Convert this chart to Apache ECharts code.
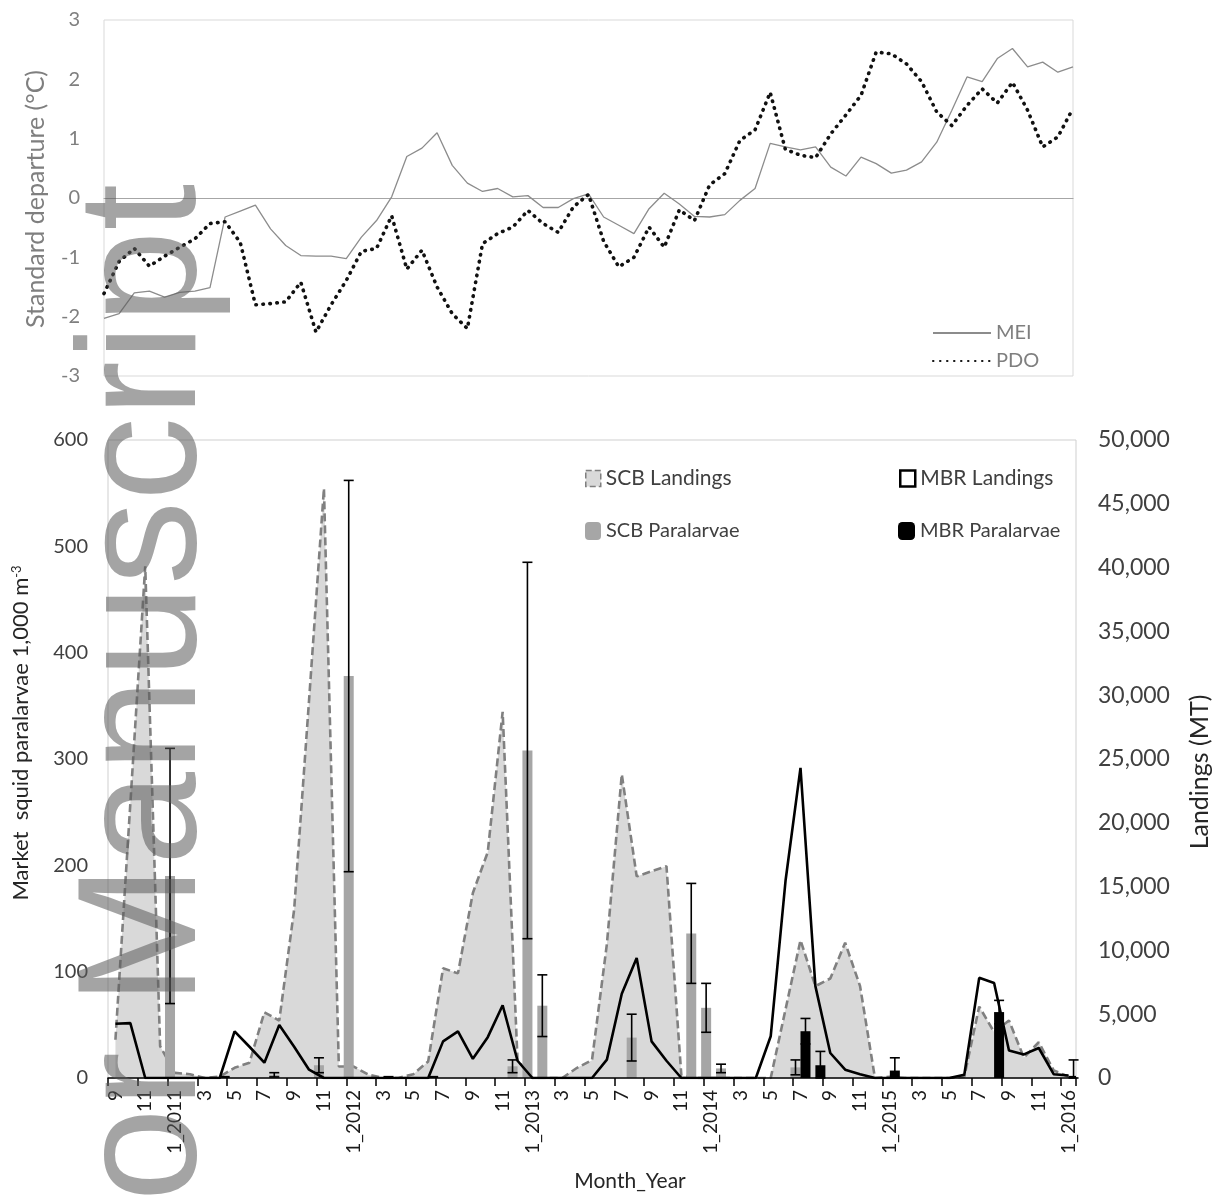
<!DOCTYPE html>
<html><head><meta charset="utf-8">
<script src="https://cdn.jsdelivr.net/npm/echarts/dist/echarts.min.js"></script>
<style>html,body{margin:0;padding:0;background:#fff}#c{width:1217px;height:1204px}</style>
</head><body><div id="c"></div>
<script>
const months = ['9','10','11','12','1_2011','2','3','4','5','6','7','8','9','10','11','12',
  '1_2012','2','3','4','5','6','7','8','9','10','11','12',
  '1_2013','2','3','4','5','6','7','8','9','10','11','12',
  '1_2014','2','3','4','5','6','7','8','9','10','11','12',
  '1_2015','2','3','4','5','6','7','8','9','10','11','12','1_2016'];

const mei = [-2.03,-1.95,-1.60,-1.57,-1.67,-1.59,-1.57,-1.51,-0.32,-0.22,
  -0.12,-0.52,-0.80,-0.97,-0.98,-0.98,-1.02,-0.66,-0.38,0.02,
  0.70,0.84,1.10,0.55,0.25,0.11,0.16,0.02,0.04,-0.16,
  -0.16,-0.01,0.07,-0.32,-0.46,-0.60,-0.18,0.08,-0.10,-0.31,
  -0.32,-0.28,-0.04,0.16,0.92,0.86,0.81,0.86,0.52,0.37,
  0.69,0.58,0.42,0.47,0.61,0.94,1.48,2.04,1.96,2.35,
  2.52,2.21,2.29,2.12,2.21];

const pdo = [-1.61,-1.07,-0.85,-1.15,-0.98,-0.83,-0.69,-0.43,-0.40,-0.75,
  -1.80,-1.78,-1.75,-1.42,-2.26,-1.80,-1.39,-0.90,-0.85,-0.30,
  -1.20,-0.88,-1.50,-1.95,-2.20,-0.77,-0.60,-0.49,-0.21,-0.43,
  -0.58,-0.15,0.06,-0.73,-1.16,-1.00,-0.49,-0.83,-0.20,-0.38,
  0.22,0.41,0.97,1.15,1.78,0.82,0.72,0.68,1.08,1.40,
  1.73,2.46,2.43,2.26,1.96,1.45,1.22,1.56,1.84,1.60,
  1.95,1.48,0.86,1.03,1.51];

const scbLandings = [3000,21500,40100,2500,400,300,0,100,800,1200,
  5150,4500,13200,29600,46200,900,900,250,0,0,
  300,1300,8600,8200,14500,17700,28700,1400,0,0,
  0,800,1400,10500,23800,15800,16200,16600,200,0,
  0,0,0,0,0,5400,10800,7200,7800,10600,
  7200,0,100,0,0,0,0,100,5600,3600,
  4500,1600,2800,600,100];

const mbrLandings = [4250,4300,0,0,0,0,0,0,3650,2450,
  1200,4150,2450,650,0,0,0,0,0,0,
  0,0,2870,3650,1500,3200,5700,1350,0,0,
  0,0,0,1440,6600,9400,2870,1350,0,0,
  0,0,0,0,3270,15500,24300,7200,1960,650,
  300,0,0,0,0,0,0,260,7850,7450,
  2150,1850,2350,300,200];

const scbParalarvae = [null,null,null,null,190,null,null,null,null,null,
  null,3,null,null,12,null,378,null,null,null,
  null,null,null,null,null,null,null,11,308,68,
  null,null,null,null,null,38,null,null,null,136,
  66,9,null,null,null,null,10,null,null,null,
  null,null,null,null,null,null,null,null,null,null,
  null,null,null,null,null];
const scbParalarvaeErr = [null,null,null,null,120,null,null,null,null,null,
  null,2,null,null,7,null,184,null,null,null,
  null,null,null,null,null,null,null,6,177,29,
  null,null,null,null,null,22,null,null,null,47,
  23,4,null,null,null,null,7,null,null,null,
  null,null,null,null,null,null,null,null,null,null,
  null,null,null,null,null];

const mbrParalarvae = [null,null,null,null,null,null,null,2,null,null,
  null,null,null,null,null,null,null,null,2,null,
  null,2,null,null,null,null,null,null,null,null,
  null,null,null,null,null,null,null,null,null,null,
  null,null,null,null,null,null,44,12,null,null,
  null,null,7,null,null,null,null,null,null,62,
  null,null,null,null,2];
const mbrParalarvaeErr = [null,null,null,null,null,null,null,0,null,null,
  null,null,null,null,null,null,null,null,0,null,
  null,0,null,null,null,null,null,null,null,null,
  null,null,null,null,null,null,null,null,null,null,
  null,null,null,null,null,null,12,13,null,null,
  null,null,12,null,null,null,null,null,null,11,
  null,null,null,null,15];

function errData(vals, errs) {
  const out = [];
  vals.forEach((v, i) => { if (v != null && errs[i] > 0) out.push([i, v, errs[i]]); });
  return out;
}
function errRender(offset) {
  return function (params, api) {
    const i = api.value(0), v = api.value(1), e = api.value(2);
    const hi = api.coord([i, v + e]);
    const lo = api.coord([i, Math.max(0, v - e)]);
    const x = hi[0] + offset, hw = 5;
    const st = { stroke: '#000', lineWidth: 1.6 };
    return { type: 'group', children: [
      { type: 'line', shape: { x1: x, y1: hi[1], x2: x, y2: lo[1] }, style: st },
      { type: 'line', shape: { x1: x - hw, y1: hi[1], x2: x + hw, y2: hi[1] }, style: st },
      { type: 'line', shape: { x1: x - hw, y1: lo[1], x2: x + hw, y2: lo[1] }, style: st }
    ]};
  };
}
const commas = v => String(v).replace(/\B(?=(\d{3})+(?!\d))/g, ',');
const F = 'Lato';

const chart = echarts.init(document.getElementById('c'), null, { renderer: 'canvas' });
chart.setOption({
  animation: false,
  backgroundColor: '#fff',
  grid: [
    { left: 104, top: 20, width: 969, height: 356, show: true, borderColor: '#d9d9d9', borderWidth: 1, containLabel: false, outerBoundsMode: 'none' },
    { left: 108, top: 440, width: 968, height: 638, show: true, borderColor: '#cfcfcf', borderWidth: 1, containLabel: false, outerBoundsMode: 'none' }
  ],
  xAxis: [
    { gridIndex: 0, type: 'category', data: months, boundaryGap: false,
      axisLine: { onZero: true, lineStyle: { color: '#a6a6a6', width: 1.2 } },
      axisTick: { show: false }, axisLabel: { show: false }, splitLine: { show: false } },
    { gridIndex: 1, type: 'category', data: months, boundaryGap: true, z: 10,
      axisLine: { lineStyle: { color: '#000', width: 1.6 } },
      axisTick: { show: true, interval: 1, length: 8, lineStyle: { color: '#000', width: 1.5 } },
      axisLabel: { interval: 1, rotate: 90, margin: 12, fontSize: 19, fontFamily: F, color: '#1a1a1a' },
      splitLine: { show: false } }
  ],
  yAxis: [
    { gridIndex: 0, type: 'value', min: -3, max: 3, interval: 1,
      axisLine: { show: false }, axisTick: { show: false }, splitLine: { show: false },
      axisLabel: { fontSize: 20, fontFamily: F, color: '#7f7f7f', margin: 24 } },
    { gridIndex: 1, type: 'value', position: 'left', min: 0, max: 600, interval: 100,
      axisLine: { show: false }, axisTick: { show: false }, splitLine: { show: false },
      axisLabel: { fontSize: 20, fontFamily: F, color: '#404040', margin: 20 } },
    { gridIndex: 1, type: 'value', position: 'right', min: 0, max: 50000, interval: 5000,
      axisLine: { show: false }, axisTick: { show: false }, splitLine: { show: false },
      axisLabel: { fontSize: 23, fontFamily: F, color: '#404040', margin: 22, formatter: commas } }
  ],
  legend: [
    { data: ['MEI', 'PDO'], orient: 'vertical', left: 932, top: 323, padding: 0, itemGap: 8,
      itemWidth: 58, itemHeight: 22, selectedMode: false,
      itemStyle: { opacity: 0 },
      textStyle: { color: '#7f7f7f', fontSize: 20, fontFamily: F } },
    { data: [{ name: 'SCB Landings', icon: 'rect', itemStyle: { color: '#d9d9d9', borderColor: '#7f7f7f', borderWidth: 1.5, borderType: 'dashed' } }],
      left: 585, top: 468, padding: 0, itemWidth: 15, itemHeight: 16, selectedMode: false,
      textStyle: { color: '#404040', fontSize: 21, fontFamily: F } },
    { data: [{ name: 'SCB Paralarvae', icon: 'roundRect', itemStyle: { color: '#a6a6a6' } }],
      left: 585, top: 521, padding: 0, itemWidth: 16, itemHeight: 18, selectedMode: false,
      textStyle: { color: '#404040', fontSize: 20, fontFamily: F } },
    { data: [{ name: 'MBR Landings', icon: 'rect', itemStyle: { color: '#fff', borderColor: '#000', borderWidth: 2.5 } }],
      left: 899, top: 468, padding: 0, itemWidth: 15, itemHeight: 16, selectedMode: false,
      textStyle: { color: '#404040', fontSize: 21, fontFamily: F } },
    { data: [{ name: 'MBR Paralarvae', icon: 'roundRect', itemStyle: { color: '#000' } }],
      left: 898, top: 521, padding: 0, itemWidth: 17, itemHeight: 18, selectedMode: false,
      textStyle: { color: '#404040', fontSize: 20, fontFamily: F } }
  ],
  series: [
    { name: 'MEI', type: 'line', xAxisIndex: 0, yAxisIndex: 0, data: mei, symbol: 'none', z: 3,
      itemStyle: { color: '#8c8c8c' },
      lineStyle: { color: '#8c8c8c', width: 1.3 } },
    { name: 'PDO', type: 'line', xAxisIndex: 0, yAxisIndex: 0, data: pdo, symbol: 'none', z: 4,
      itemStyle: { color: '#111' },
      lineStyle: { color: '#111', width: 3.6, type: [0.5, 6.5], cap: 'round' } },
    { name: 'SCB Landings', type: 'line', xAxisIndex: 1, yAxisIndex: 2, data: scbLandings, symbol: 'none', z: 1,
      lineStyle: { color: '#808080', width: 2.6, type: [8, 4] },
      areaStyle: { color: '#d9d9d9', opacity: 1 } },
    { name: 'SCB Paralarvae', type: 'bar', xAxisIndex: 1, yAxisIndex: 1, data: scbParalarvae,
      barWidth: 10, barGap: '0%', itemStyle: { color: '#a6a6a6' }, z: 2 },
    { name: 'MBR Paralarvae', type: 'bar', xAxisIndex: 1, yAxisIndex: 1, data: mbrParalarvae,
      barWidth: 10, barGap: '0%', itemStyle: { color: '#000' }, z: 2 },
    { name: 'MBR Landings', type: 'line', xAxisIndex: 1, yAxisIndex: 2, data: mbrLandings, symbol: 'none', z: 4,
      lineStyle: { color: '#000', width: 2.6 } },
    { name: 'SCB error', type: 'custom', xAxisIndex: 1, yAxisIndex: 1, z: 5,
      data: errData(scbParalarvae, scbParalarvaeErr), renderItem: errRender(-5), encode: { x: 0, y: 1 } },
    { name: 'MBR error', type: 'custom', xAxisIndex: 1, yAxisIndex: 1, z: 5,
      data: errData(mbrParalarvae, mbrParalarvaeErr), renderItem: errRender(5), encode: { x: 0, y: 1 } }
  ],
  graphic: [
    { type: 'text', x: 36, y: 199, rotation: Math.PI / 2,
      style: { text: 'Standard departure (°C)', fill: '#7f7f7f', font: '25px Lato', align: 'center', verticalAlign: 'middle' } },
    { type: 'text', x: 21, y: 733, rotation: Math.PI / 2,
      style: { text: '{a|Market  squid paralarvae 1,000 m}{b|-3}', align: 'center', verticalAlign: 'middle',
        rich: { a: { fontSize: 22, fontFamily: F, fill: '#262626' },
                b: { fontSize: 13, fontFamily: F, fill: '#262626', verticalAlign: 'top' } } } },
    { type: 'text', x: 1200, y: 772, rotation: Math.PI / 2,
      style: { text: 'Landings (MT)', fill: '#262626', font: '25px Lato', align: 'center', verticalAlign: 'middle' } },
    { type: 'text', x: 630, y: 1181,
      style: { text: 'Month_Year', fill: '#262626', font: '21px Lato', align: 'center', verticalAlign: 'middle' } },
    { type: 'text', x: 149, y: 1547, rotation: Math.PI / 2, z: 100, silent: true,
      style: { text: 'Author Manuscript', fill: 'rgba(90,90,90,0.55)', font: '168px "Liberation Sans"', align: 'left', verticalAlign: 'middle' } }
  ]
});
</script></body></html>
